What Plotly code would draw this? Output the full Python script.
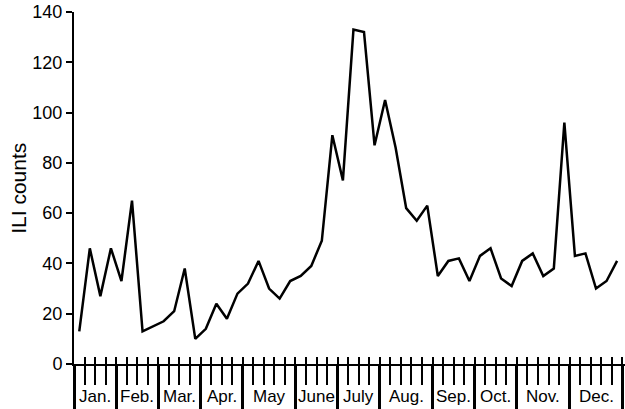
import plotly.graph_objects as go

# weekly influenza-like illness counts, one value per week of the year
weeks = list(range(1, 53))
ili_counts = [13, 46, 27, 46, 33, 65, 13, 15, 17, 21, 38, 10, 14, 24, 18, 28,
              32, 41, 30, 26, 33, 35, 39, 49, 91, 73, 133, 132, 87, 105, 86, 62,
              57, 63, 35, 41, 42, 33, 43, 46, 34, 31, 41, 44, 35, 38, 96, 43,
              44, 30, 33, 41]

month_names = ["Jan.", "Feb.", "Mar.", "Apr.", "May", "June", "July", "Aug.",
               "Sep.", "Oct.", "Nov.", "Dec."]
weeks_per_month = [4, 4, 4, 4, 5, 4, 4, 5, 4, 4, 5, 5]

y_ticks = [0, 20, 40, 60, 80, 100, 120, 140]

font = "Liberation Sans, Arial, Helvetica, sans-serif"

# week boundaries (between points) and month boundaries
week_edges = [w + 0.5 for w in range(0, 53)]
month_edges = [0.5]
for n in weeks_per_month:
    month_edges.append(month_edges[-1] + n)
month_centers = [(a + b) / 2 for a, b in zip(month_edges[:-1], month_edges[1:])]

x_range = [0.5, 52.75]

fig = go.Figure()
fig.add_trace(go.Scatter(
    x=weeks, y=ili_counts, mode="lines",
    line=dict(color="black", width=2.5),
    showlegend=False, hoverinfo="skip",
))
# invisible copy so the overlay axis (upper part of the week ticks) is drawn
fig.add_trace(go.Scatter(
    x=weeks, y=ili_counts, mode="lines", xaxis="x2",
    line=dict(color="rgba(0,0,0,0)", width=0),
    showlegend=False, hoverinfo="skip",
))

fig.update_layout(
    template="none",
    width=625, height=409,
    margin=dict(l=74, r=0, t=12, b=45, autoexpand=False),
    paper_bgcolor="white", plot_bgcolor="white",
    font=dict(family=font, size=18, color="black"),
    xaxis=dict(
        range=x_range, showgrid=False, zeroline=False, automargin=False,
        showline=True, linecolor="black", linewidth=2,
        tickmode="array", tickvals=month_edges, ticks="outside",
        ticklen=45, tickwidth=2.5, tickcolor="black",
        showticklabels=False,
        minor=dict(tickmode="array", tickvals=week_edges, ticks="outside",
                   ticklen=19, tickwidth=2, tickcolor="black", showgrid=False),
    ),
    xaxis2=dict(
        range=x_range, overlaying="x", anchor="y", side="bottom",
        showgrid=False, zeroline=False, showline=False, automargin=False,
        tickmode="array", tickvals=week_edges, ticks="inside",
        ticklen=7, tickwidth=2, tickcolor="black", showticklabels=False,
    ),
    yaxis=dict(
        range=[0, 140], showgrid=False, zeroline=False, automargin=False,
        showline=True, linecolor="black", linewidth=2,
        tickmode="array", tickvals=y_ticks, ticks="outside",
        ticklen=6, tickwidth=1.5, tickcolor="black",
        tickfont=dict(size=18),
    ),
)

for name, xc in zip(month_names, month_centers):
    fig.add_annotation(x=xc, y=-0.093, xref="x", yref="paper", text=name,
                       showarrow=False, yanchor="middle", xanchor="center",
                       font=dict(size=17))

fig.add_annotation(x=-0.102, y=0.5, xref="paper", yref="paper",
                   text="ILI counts", textangle=-90, showarrow=False,
                   xanchor="center", yanchor="middle", font=dict(size=21))

# page body has an 8px default margin; drop it so the figure fills the window
fig.write_html("out.html", config={"displayModeBar": False},
               post_script="document.body.style.margin='0';")
